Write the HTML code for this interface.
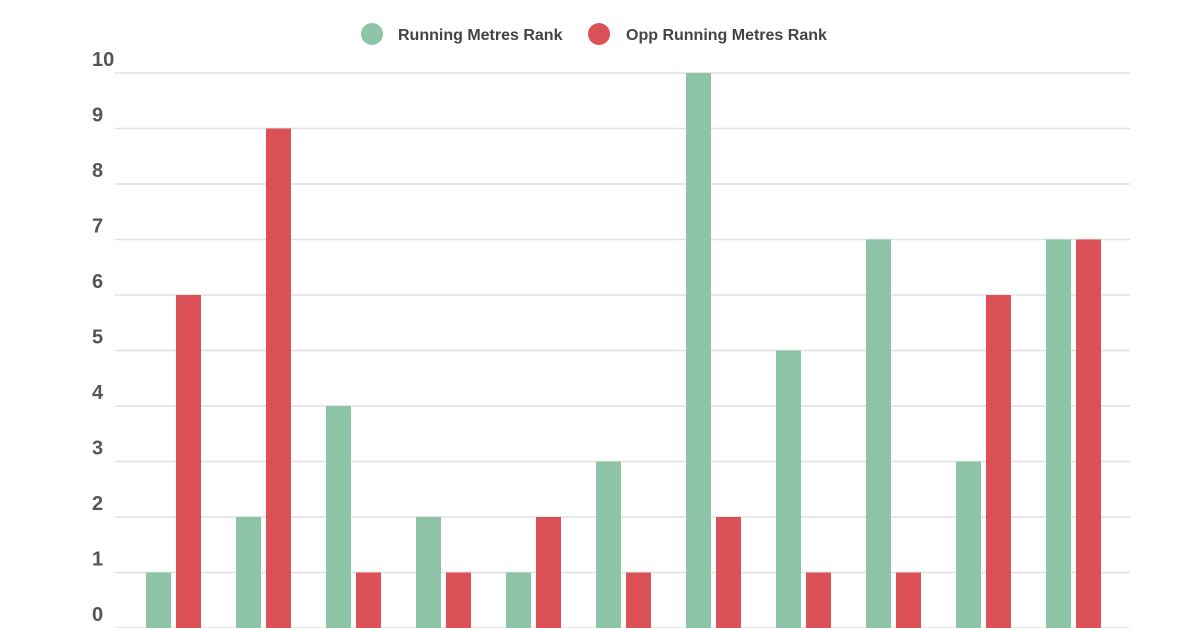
<!DOCTYPE html>
<html><head><meta charset="utf-8"><style>
html,body{margin:0;padding:0;background:#fff;width:1200px;height:628px;overflow:hidden}
svg{display:block;font-family:"Liberation Sans",sans-serif}
</style></head><body>
<svg id="chart" width="1200" height="628">
<g>
<circle cx="372" cy="34" r="11" fill="#8dc3a7"/>
<text x="398" y="40" font-size="16" font-weight="bold" fill="#444">Running Metres Rank</text>
<circle cx="599" cy="34" r="11" fill="#dc5157"/>
<text x="626" y="40" font-size="16" font-weight="bold" fill="#444">Opp Running Metres Rank</text>
</g>
<g id="grid"></g>
<g id="bars"></g>
</svg>
<script>
const categories=["G1","G2","G3","G4","G5","G6","G7","G8","G9","G10","G11"];
const runningRank=[1,2,4,2,1,3,10,5,7,3,7];
const oppRunningRank=[6,9,1,1,2,1,2,1,1,6,7];
const yTicks=[0,1,2,3,4,5,6,7,8,9,10];
const NS="http://www.w3.org/2000/svg";
const y0=628,y1=73,yMax=10;
const y=v=>y0-(v/yMax)*(y0-y1);
const gx0=146,step=90,bw=25,gap=5;
const x=i=>gx0+i*step;
const grid=document.getElementById('grid');
yTicks.forEach(t=>{
 const l=document.createElementNS(NS,'line');
 l.setAttribute('x1',115);l.setAttribute('x2',1130);
 l.setAttribute('y1',y(t));l.setAttribute('y2',y(t));
 l.setAttribute('stroke','#e0e0e0');l.setAttribute('stroke-width','1.5');
 
 
 grid.appendChild(l);
 const tx=document.createElementNS(NS,'text');
 tx.setAttribute('x',92);tx.setAttribute('y',y(t)-7);
 tx.setAttribute('font-size','20');tx.setAttribute('font-weight','bold');tx.setAttribute('fill','#555');
 tx.textContent=t;
 
 
 grid.appendChild(tx);
});
const bars=document.getElementById('bars');
categories.forEach((c,i)=>{
 [[runningRank,'#8dc3a7',0,'running'],[oppRunningRank,'#dc5157',bw+gap,'opp']].forEach(([arr,col,off,nm])=>{
  const r=document.createElementNS(NS,'rect');
  r.setAttribute('x',x(i)+off);r.setAttribute('width',bw);
  r.setAttribute('y',y(arr[i]));r.setAttribute('height',y0-y(arr[i]));
  r.setAttribute('fill',col);
  
  
  bars.appendChild(r);
 });
});
</script>
</body></html>
